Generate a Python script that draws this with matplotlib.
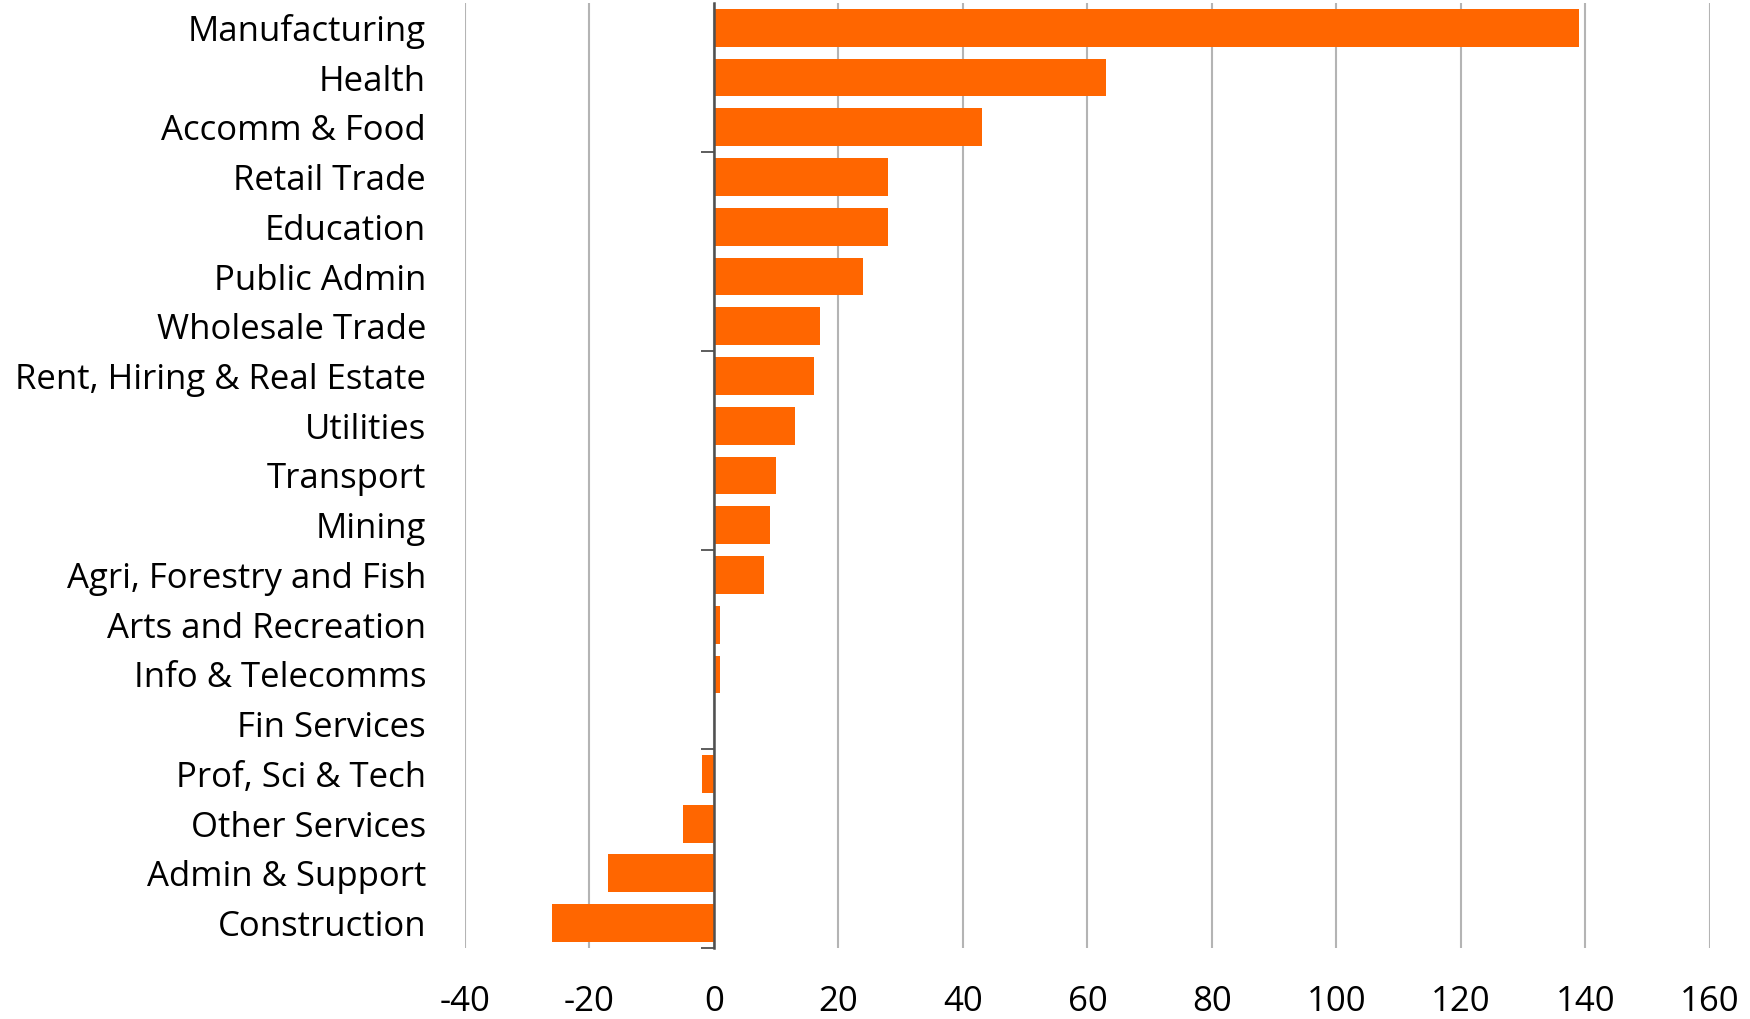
import matplotlib
matplotlib.use('Agg')
import matplotlib.pyplot as plt

plt.rcParams['font.family'] = ['Open Sans', 'DejaVu Sans']

# industries, top to bottom
industries = ['Manufacturing', 'Health', 'Accomm & Food', 'Retail Trade', 'Education',
              'Public Admin', 'Wholesale Trade', 'Rent, Hiring & Real Estate', 'Utilities',
              'Transport', 'Mining', 'Agri, Forestry and Fish', 'Arts and Recreation',
              'Info & Telecomms', 'Fin Services', 'Prof, Sci & Tech', 'Other Services',
              'Admin & Support', 'Construction']
change = [139, 63, 43, 28, 28, 24, 17, 16, 13, 10, 9, 8, 1, 1, 0, -2, -5, -17, -26]
xticks = [-40, -20, 0, 20, 40, 60, 80, 100, 120, 140, 160]

fig = plt.figure(figsize=(17.5, 10.19), dpi=100)
ax = fig.add_axes([0.2657, 0.0697, 0.7114, 0.9274])

pos = list(range(len(industries)))
ax.barh(pos, change, height=0.76, color='#ff6600', zorder=3)
ax.set_ylim(len(industries) - 0.5, -0.5)
ax.set_xlim(xticks[0], xticks[-1])
ax.set_xticks(xticks)
ax.set_xticklabels([str(t) for t in xticks])
ax.set_yticks(pos)
ax.set_yticklabels(industries)
ax.tick_params(axis='both', length=0, labelsize=25)
ax.tick_params(axis='y', pad=28)
ax.tick_params(axis='x', pad=27)
for s in ax.spines.values():
    s.set_visible(False)
ax.xaxis.grid(True, color='#b4b4b4', linewidth=1.5, zorder=0)
ax.set_axisbelow(True)

# zero line with category ticks every 4 rows from the bottom
ax2 = ax.twinx()
ax2.set_ylim(ax.get_ylim())
for name, s in ax2.spines.items():
    s.set_visible(name == 'right')
ax2.spines['right'].set_position(('data', 0))
ax2.spines['right'].set_color('#505050')
ax2.spines['right'].set_linewidth(1.8)
ax2.spines['right'].set_zorder(5)
ax2.set_yticks([b + 0.5 for b in range(len(industries) - 1, -1, -4)])
ax2.tick_params(axis='y', direction='in', length=9.5, width=1.3, color='#505050', labelright=False)
ax2.set_xlim(ax.get_xlim())

fig.savefig('out.png', dpi=100)
